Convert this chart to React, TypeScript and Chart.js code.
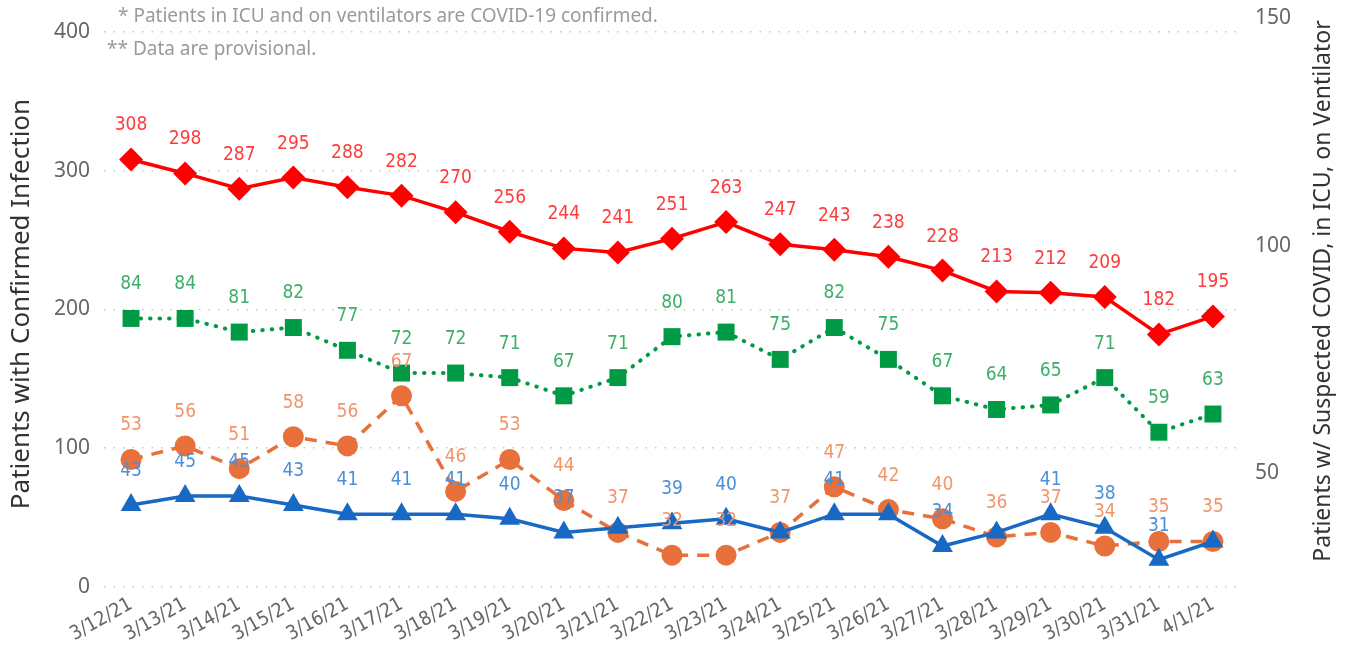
import React, { useEffect, useRef } from "react";
import { Chart, registerables } from "chart.js";

Chart.register(...registerables);

const categories = [
  "3/12/21", "3/13/21", "3/14/21", "3/15/21", "3/16/21", "3/17/21", "3/18/21",
  "3/19/21", "3/20/21", "3/21/21", "3/22/21", "3/23/21", "3/24/21", "3/25/21",
  "3/26/21", "3/27/21", "3/28/21", "3/29/21", "3/30/21", "3/31/21", "4/1/21",
];
const confirmedInfection = [308, 298, 287, 295, 288, 282, 270, 256, 244, 241, 251, 263, 247, 243, 238, 228, 213, 212, 209, 182, 195];
const suspectedCovid = [84, 84, 81, 82, 77, 72, 72, 71, 67, 71, 80, 81, 75, 82, 75, 67, 64, 65, 71, 59, 63];
const inIcu = [53, 56, 51, 58, 56, 67, 46, 53, 44, 37, 32, 32, 37, 47, 42, 40, 36, 37, 34, 35, 35];
const onVentilator = [43, 45, 45, 43, 41, 41, 41, 40, 37, 38, 39, 40, 37, 41, 41, 34, 37, 41, 38, 31, 35];
const ventilatorHiddenLabels = [9, 12, 14, 16, 20];
const leftTicks = [0, 100, 200, 300, 400];
const rightTicks = [50, 100, 150];
const leftTitle = "Patients with Confirmed Infection";
const rightTitle = "Patients w/ Suspected COVID, in ICU, on Ventilator";
const notes = [
  "* Patients in ICU and on ventilators are COVID-19 confirmed.",
  "** Data are provisional.",
];

const LABEL_FONT = "'Liberation Sans Narrow', 'DejaVu Sans Condensed', 'Roboto', sans-serif";
const UI_FONT = "'Noto Sans', 'Open Sans', sans-serif";

const overlayPlugin = {
  id: "overlay",
  afterDatasetsDraw(chart: any) {
    const ctx = chart.ctx;
    ctx.save();
    ctx.textAlign = "center";
    ctx.textBaseline = "middle";
    ctx.font = `19px ${LABEL_FONT}`;
    chart.data.datasets.forEach((ds: any, i: number) => {
      const meta = chart.getDatasetMeta(i);
      const hidden: number[] = ds.hiddenLabels || [];
      meta.data.forEach((pt: any, j: number) => {
        if (hidden.includes(j)) return;
        ctx.fillStyle = ds.labelColor;
        ctx.fillText(String(ds.data[j]), pt.x, pt.y - 34);
      });
    });
    ctx.restore();
  },
  afterDraw(chart: any) {
    const ctx = chart.ctx;
    ctx.save();
    ctx.fillStyle = "#9a9a9a";
    ctx.font = `19px ${UI_FONT}`;
    ctx.textAlign = "left";
    ctx.textBaseline = "middle";
    ctx.fillText(notes[0], 118, 17);
    ctx.fillText(notes[1], 107, 50);

    ctx.fillStyle = "#333";
    ctx.font = `26px ${UI_FONT}`;
    ctx.textAlign = "center";
    ctx.translate(22, 304);
    ctx.rotate(-Math.PI / 2);
    ctx.fillText(leftTitle, 0, 0);
    ctx.restore();

    ctx.save();
    ctx.fillStyle = "#333";
    ctx.font = `23px ${UI_FONT}`;
    ctx.textAlign = "center";
    ctx.textBaseline = "middle";
    ctx.translate(1323, 291);
    ctx.rotate(-Math.PI / 2);
    ctx.fillText(rightTitle, 0, 0);
    ctx.restore();
  },
};

function fixWidth(w: number) {
  return (scale: any) => {
    scale.width = w;
    scale.paddingTop = 0;
    scale.paddingBottom = 0;
  };
}

export default function App() {
  const ref = useRef<HTMLCanvasElement | null>(null);

  useEffect(() => {
    if (!ref.current) return;
    const chart = new Chart(ref.current, {
      type: "line",
      data: {
        labels: categories,
        datasets: [
          {
            data: onVentilator,
            yAxisID: "y1",
            borderColor: "#1769c4",
            backgroundColor: "#1769c4",
            borderWidth: 3.5,
            pointStyle: "triangle",
            pointRadius: 12,
            pointBorderWidth: 0,
            labelColor: "#4a8fd8",
            hiddenLabels: ventilatorHiddenLabels,
          } as any,
          {
            data: inIcu,
            yAxisID: "y1",
            borderColor: "#e8703a",
            backgroundColor: "#e8703a",
            borderWidth: 3.5,
            borderDash: [12, 9],
            pointStyle: "circle",
            pointRadius: 10.5,
            pointBorderWidth: 0,
            labelColor: "#f2956b",
          } as any,
          {
            data: suspectedCovid,
            yAxisID: "y1",
            borderColor: "#009a44",
            backgroundColor: "#009a44",
            borderWidth: 4,
            borderDash: [0.5, 9],
            borderCapStyle: "round",
            pointStyle: "rect",
            pointRadius: 12,
            pointBorderWidth: 0,
            labelColor: "#3daf68",
          } as any,
          {
            data: confirmedInfection,
            yAxisID: "y",
            borderColor: "#ff0000",
            backgroundColor: "#ff0000",
            borderWidth: 3.5,
            pointStyle: "rectRot",
            pointRadius: 12,
            pointBorderWidth: 0,
            labelColor: "#ff3b3b",
          } as any,
        ],
      },
      options: {
        animation: false,
        responsive: true,
        maintainAspectRatio: false,
        layout: { padding: { top: 18, left: 0, right: 0, bottom: 0 } },
        plugins: {
          legend: { display: false },
          tooltip: { enabled: false },
        },
        elements: { line: { tension: 0 } },
        scales: {
          x: {
            offset: true,
            grid: { display: false, drawTicks: false },
            border: { display: false },
            ticks: {
              autoSkip: false,
              minRotation: 29,
              maxRotation: 29,
              padding: 6,
              color: "#666",
              font: { family: LABEL_FONT, size: 19.5 },
            },
            afterFit(scale: any) {
              scale.height = 66;
              scale.paddingLeft = 0;
              scale.paddingRight = 0;
            },
          },
          y: {
            position: "left",
            min: 0,
            max: 410,
            afterBuildTicks(scale: any) {
              scale.ticks = leftTicks.map((v) => ({ value: v }));
            },
            grid: { color: "#c6c6c6", lineWidth: 1.5, drawTicks: false },
            border: { display: false, dash: [1.5, 8] },
            ticks: {
              padding: 14,
              color: "#666",
              font: { family: UI_FONT, size: 21 },
            },
            afterFit: fixWidth(104),
          },
          y1: {
            position: "right",
            min: 25,
            max: 150,
            afterBuildTicks(scale: any) {
              scale.ticks = rightTicks.map((v) => ({ value: v }));
            },
            grid: { display: false, drawTicks: false },
            border: { display: false },
            ticks: {
              padding: 15,
              color: "#666",
              font: { family: UI_FONT, size: 21 },
            },
            afterFit: fixWidth(106),
          },
        },
      } as any,
      plugins: [overlayPlugin],
    });
    return () => chart.destroy();
  }, []);

  return (
    <div style={{ position: "fixed", left: 0, top: 0, width: 1346, height: 653, background: "#fff" }}>
      <canvas ref={ref} />
    </div>
  );
}
